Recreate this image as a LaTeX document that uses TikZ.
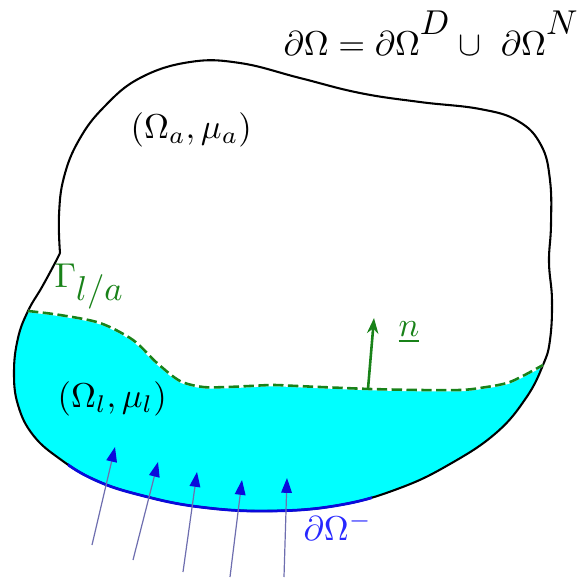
\documentclass[tikz,border=0pt]{standalone}
\usetikzlibrary{arrows.meta}
\definecolor{ifgreen}{RGB}{25,130,25}
\definecolor{bdblue}{RGB}{10,10,220}
\definecolor{lblblue}{RGB}{40,40,255}
\definecolor{flowline}{RGB}{110,110,175}
\definecolor{fluid}{RGB}{0,255,255}
\begin{document}
\begin{tikzpicture}[x=0.29pt,y=-0.29pt,
  outline/.style={line width=0.6pt, black},
  iface/.style={ifgreen, line width=0.75pt, dash pattern=on 3pt off 1.3pt},
  ifaceback/.style={white, line width=0.75pt},
  bdry/.style={bdblue, line width=0.8pt},
  flow/.style={flowline, line width=0.35pt, -{Triangle[length=4.3pt,width=3.1pt,color=bdblue]}},
  normarrow/.style={ifgreen, line width=0.75pt, -{Stealth[length=4.5pt,width=3.3pt]}},
  lbl/.style={inner sep=0pt, anchor=base west}]
\useasboundingbox (0,0) rectangle (580,581);

% fluid region (clipped to the domain)
\begin{scope}
\clip plot[smooth,tension=0.7] coordinates {(60,253) (59,215) (64,177) (79,140) (104,107) (140,78) (190,62) (240,63) (300,78) (360,93) (420,102) (480,109) (518,121) (541,145) (550,180) (551,225) (549,262) (552,300) (550,340) (543,365) (526,398) (496,433) (450,464) (400,488) (340,505) (270,511) (200,507) (140,495) (95,480) (60,459) (33,435) (18,405) (14,372) (18,338) (28,311) (42,287) (55,263) (60,253)} -- cycle;
\fill[fluid] plot[smooth] coordinates {(28,311) (60,315) (100,323) (133,340) (157,363) (180,381) (203,387) (227,387) (250,386) (273,385) (297,386) (320,387) (370,389) (420,390) (460,390) (480,388) (510,382) (543,365)} -- (600,365) -- (600,600) -- (-20,600) -- (-20,311) -- cycle;
\end{scope}

% domain boundary
\draw[outline] plot[smooth,tension=0.7] coordinates {(60,253) (59,215) (64,177) (79,140) (104,107) (140,78) (190,62) (240,63) (300,78) (360,93) (420,102) (480,109) (518,121) (541,145) (550,180) (551,225) (549,262) (552,300) (550,340) (543,365) (526,398) (496,433) (450,464) (400,488) (340,505) (270,511) (200,507) (140,495) (95,480) (60,459) (33,435) (18,405) (14,372) (18,338) (28,311) (42,287) (55,263) (60,253)};

% inflow boundary part
\begin{scope}
\clip (68,440) rectangle (372,560);
\draw[bdry] plot[smooth,tension=0.7] coordinates {(496,433) (450,464) (400,488) (340,505) (270,511) (200,507) (140,495) (95,480) (60,459) (33,435) (18,405)};
\end{scope}

% interface
\draw[ifaceback] plot[smooth] coordinates {(28,311) (60,315) (100,323) (133,340) (157,363) (180,381) (203,387) (227,387) (250,386) (273,385) (297,386) (320,387) (370,389) (420,390) (460,390) (480,388) (510,382) (543,365)};
\draw[iface] plot[smooth] coordinates {(28,311) (60,315) (100,323) (133,340) (157,363) (180,381) (203,387) (227,387) (250,386) (273,385) (297,386) (320,387) (370,389) (420,390) (460,390) (480,388) (510,382) (543,365)};

% normal vector
\coordinate (n0) at (368,389);
\coordinate (n1) at (374,318);
\draw[normarrow] (n0) -- (n1);

% inflow arrows
\coordinate (t1) at (92,545);  \coordinate (h1) at (115,447);
\coordinate (t2) at (133,560); \coordinate (h2) at (158,462);
\coordinate (t3) at (183,572); \coordinate (h3) at (197,472);
\coordinate (t4) at (230,577); \coordinate (h4) at (242,480);
\coordinate (t5) at (284,577); \coordinate (h5) at (287,478);
\draw[flow] (t1) -- (h1);
\draw[flow] (t2) -- (h2);
\draw[flow] (t3) -- (h3);
\draw[flow] (t4) -- (h4);
\draw[flow] (t5) -- (h5);

% labels
\node[lbl] (top) at (283,55) {$\partial\Omega = \partial\Omega^{\raisebox{2.3pt}{$D$}} \cup\ \partial\Omega^{\raisebox{2.3pt}{$N$}}$};
\node[lbl] (oa) at (130,138) {$(\Omega_a,\mu_a)$};
\node[lbl] (ol) at (57,407) {$(\Omega_l,\mu_l)$};
\node[lbl, text=ifgreen] (gam) at (54,287) {$\Gamma_{\textstyle l/a}$};
\node[lbl, text=ifgreen] (nl) at (398,336) {$\underline{n}$};
\node[lbl, text=lblblue] (dm) at (303,540) {$\partial\Omega^{-}$};
\end{tikzpicture}
\end{document}
